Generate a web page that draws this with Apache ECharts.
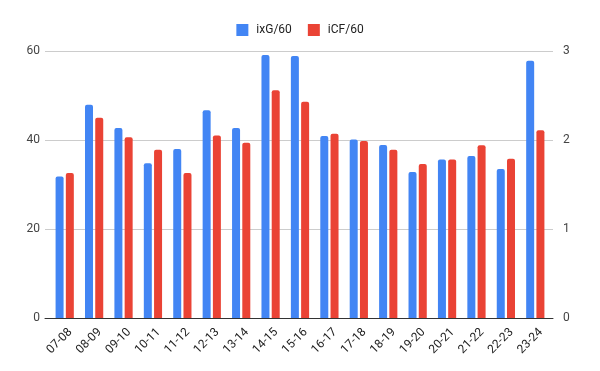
<!DOCTYPE html>
<html><head><meta charset="utf-8">
<script src="https://cdn.jsdelivr.net/npm/echarts@6/dist/echarts.min.js"></script>
<style>html,body{margin:0;padding:0;background:#fff}#c{width:600px;height:371px}</style>
</head><body><div id="c"></div>
<script>
const categories = ['07-08','08-09','09-10','10-11','11-12','12-13','13-14','14-15','15-16','16-17','17-18','18-19','19-20','20-21','21-22','22-23','23-24'];
const ixG60 = [31.8,47.9,42.7,34.8,38.0,46.7,42.7,59.1,58.9,40.9,40.1,38.9,32.8,35.6,36.4,33.5,57.8];
const iCF60 = [1.63,2.25,2.03,1.89,1.63,2.05,1.97,2.56,2.43,2.07,1.99,1.89,1.73,1.78,1.94,1.79,2.11];
const leftTicks = {min:0,max:60,interval:20};
const rightTicks = {min:0,max:3,interval:1};

const chart = echarts.init(document.getElementById('c'));
const font = 'Roboto, Arial, sans-serif';
chart.setOption({
  animation:false,
  textStyle:{fontFamily:font},
  legend:{top:19,left:'center',itemWidth:12,itemHeight:12,itemGap:16,icon:'rect',
    textStyle:{fontSize:12,color:'#222',fontFamily:font,padding:[0,0,0,3]},
    data:['ixG/60','iCF/60']},
  grid:[
    {left:45,right:47,top:51,bottom:53,containLabel:false},
    {left:50,right:50,top:51,bottom:53,containLabel:false}
  ],
  xAxis:[
    {type:'category',gridIndex:0,data:categories,
     axisLine:{lineStyle:{color:'#333',width:1}},axisTick:{show:false},axisLabel:{show:false}},
    {type:'category',gridIndex:1,data:categories,
     axisLine:{show:false},axisTick:{show:false},
     axisLabel:{rotate:45,fontSize:12,color:'#222',interval:0,margin:18,padding:[0,-8,0,0],fontFamily:font}}
  ],
  yAxis:[
    {type:'value',gridIndex:0,min:leftTicks.min,max:leftTicks.max,interval:leftTicks.interval,
     axisLine:{show:false},axisTick:{show:false},
     axisLabel:{fontSize:12,color:'#444',margin:5,fontFamily:font},
     splitLine:{lineStyle:{color:'#ccc'}}},
    {type:'value',gridIndex:0,min:rightTicks.min,max:rightTicks.max,interval:rightTicks.interval,position:'right',
     axisLine:{show:false},axisTick:{show:false},
     axisLabel:{fontSize:12,color:'#444',margin:10,fontFamily:font},
     splitLine:{show:false}},
    {type:'value',gridIndex:1,min:leftTicks.min,max:leftTicks.max,show:false},
    {type:'value',gridIndex:1,min:rightTicks.min,max:rightTicks.max,show:false}
  ],
  series:[
    {name:'ixG/60',type:'bar',xAxisIndex:1,yAxisIndex:2,data:ixG60,barWidth:8,barGap:'28%',
     itemStyle:{color:'#4285F4',borderRadius:[2,2,0,0]}},
    {name:'iCF/60',type:'bar',xAxisIndex:1,yAxisIndex:3,data:iCF60,barWidth:8,
     itemStyle:{color:'#EA4335',borderRadius:[2,2,0,0]}}
  ]
});
</script></body></html>
